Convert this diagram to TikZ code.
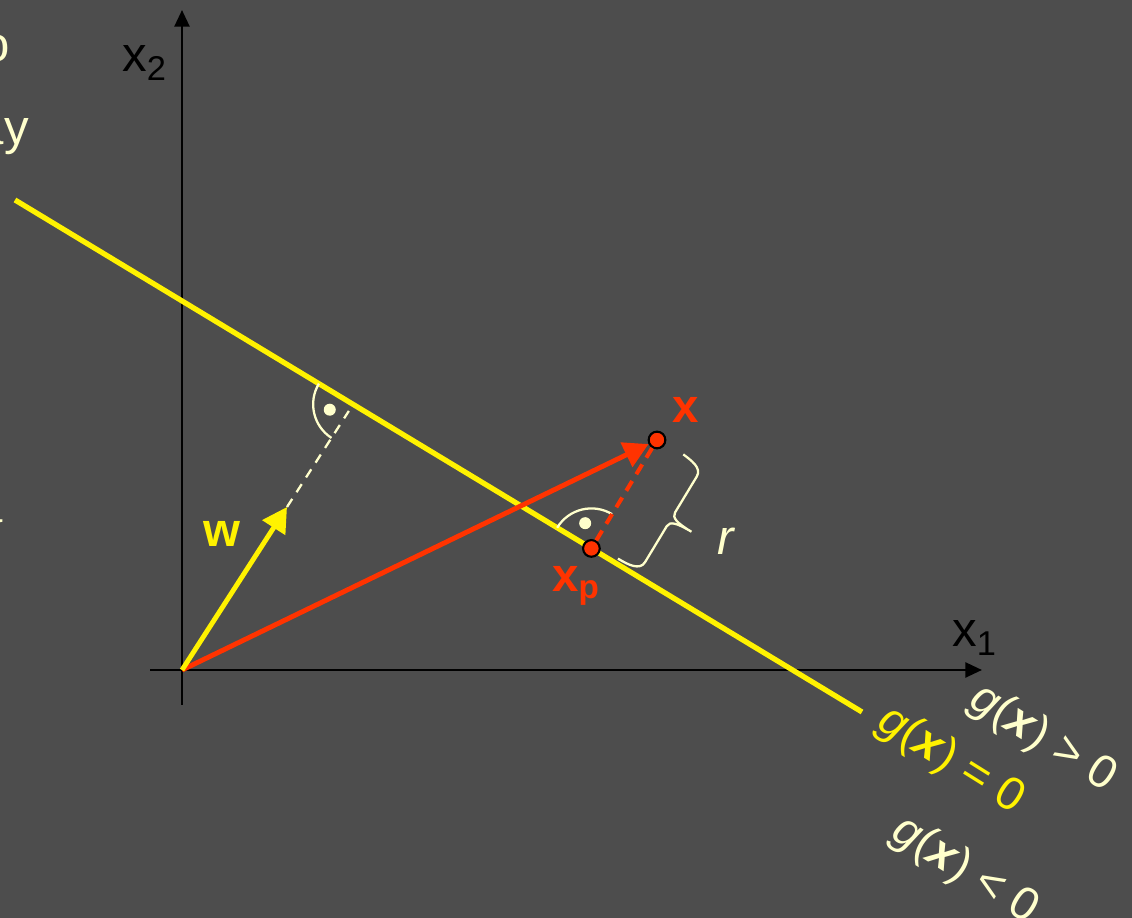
\documentclass[tikz,border=0pt]{standalone}
\usepackage{fontspec}
\setmainfont{Liberation Sans}
\usetikzlibrary{arrows.meta, calc, positioning}
\definecolor{slidebg}{RGB}{77,77,77}
\definecolor{cream}{RGB}{255,255,204}
\definecolor{vecred}{RGB}{255,51,0}

\begin{document}
\begin{tikzpicture}[x=0.02cm, y=0.02cm,
        axis/.style={draw, black, line width=1.5pt, -{Triangle[length=9.5pt, width=8.5pt]}},
        vec/.style={draw, line width=2.8pt, -{Triangle[length=14pt, width=15pt]}},
        pt/.style={draw=black, fill=vecred, circle, line width=1.2pt, minimum size=9.5pt, inner sep=0pt},
        rmark/.style={draw=cream, line width=1.3pt},
        lbl/.style={inner sep=0pt, anchor=base west, font=\fontsize{28}{34}\selectfont},
        vlbl/.style={lbl, font=\fontsize{27}{32}\selectfont\bfseries},
        glbl/.style={inner sep=0pt, rotate=-32, font=\fontsize{26.5}{32}\selectfont}]

        % background
        \useasboundingbox (0,0) rectangle (1132,918);
        \fill[slidebg] (0,0) rectangle (1132,918);

        % cut-off slide text at the left edge
        \node[lbl, cream, anchor=base east] (frag1) at (10,856) {o};
        \node[lbl, cream, anchor=base east] (frag2) at (29,773) {ay};
        \node[lbl, cream, anchor=base east] (frag3) at (3,395) {a};

        % axes
        \coordinate (O) at (182,248);
        \draw[axis] (182,213) -- (182,908);
        \draw[axis] (150,248) -- (982,248);
        \node[lbl] (x2lab) at (122,846) {x\textsubscript{2}};
        \node[lbl] (x1lab) at (952,271) {x\textsubscript{1}};

        % decision boundary
        \coordinate (A) at (15,718);
        \coordinate (B) at (862,206);
        \draw[yellow, line width=3pt] (A) -- (B);

        % points
        \coordinate (W) at (287,411);
        \coordinate (F) at (intersection of A--B and O--W);
        \node[pt] (xpt) at (657,478) {};
        \node[pt] (xppt) at ($(A)!(xpt.center)!(B)$) {};

        % right angles
        \draw[cream, line width=1.3pt, dash pattern=on 5.5pt off 4.5pt, shorten >=4.5pt] (W) -- (F);
        \draw[rmark] (F) ++(148.85:40) arc[start angle=148.85, end angle=237.2, radius=40];
        \fill[cream] ($(F)+(193:24)$) circle (6);
        \draw[rmark] (xppt.center) ++(58.85:40) arc[start angle=58.85, end angle=148.85, radius=40];
        \fill[cream] ($(xppt.center)+(103.85:26)$) circle (6);

        % vectors
        \path[vec, vecred] (O) -- (xpt);
        \path[vec, yellow] (O) -- (W);
        \draw[vecred, line width=2.3pt, dash pattern=on 6.5pt off 4.5pt] (xppt) -- (xpt);

        % brace for r
        \begin{scope}[shift={(xppt.center)}, rotate=-31.15]
            \draw[rmark] (28,5) .. controls (40,5) and (53,6) .. (53,16) -- (53,58)
                .. controls (53,64) and (60,66) .. (77,66)
                .. controls (60,66) and (53,68) .. (53,74) -- (53,116)
                .. controls (53,126) and (40,127) .. (30,128);
        \end{scope}

        % labels
        \node[vlbl, yellow] (wlab) at (203,371) {w};
        \node[vlbl, vecred] (xlab) at (672,495) {x};
        \node[vlbl, vecred] (xplab) at (552,326) {x\textsubscript{p}};
        \node[lbl, cream] (rlab) at (717,363) {\textit{r}};
        \node[glbl, cream] (gpos) at (1043,179) {\textit{g}(\textbf{\textit{x}}) > 0};
        \node[glbl, yellow] (gzero) at (951,157) {\textit{g}(\textbf{\textit{x}}) = 0};
        \node[glbl, cream] (gneg) at (965,47) {\textit{g}(\textbf{\textit{x}}) < 0};
\end{tikzpicture}
\end{document}
